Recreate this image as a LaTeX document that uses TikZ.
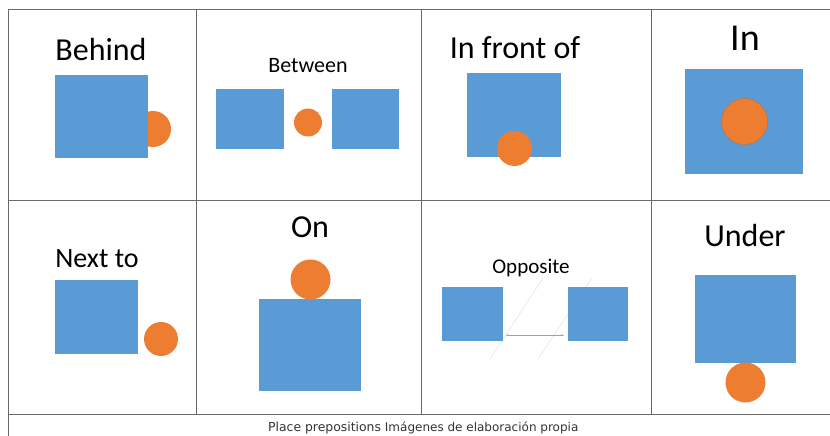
\documentclass[tikz,border=0pt]{standalone}
\usepackage{fontspec}
\setmainfont{Carlito}
\newfontfamily\notefont{DejaVu Sans}
\usepackage{xcolor}
\usetikzlibrary{arrows.meta}

\definecolor{boxblue}{HTML}{5B9BD5}
\definecolor{ballorange}{HTML}{ED7D31}
\definecolor{gridgray}{HTML}{6A6A6A}

\begin{document}
\begin{tikzpicture}[
    x=1pt, y=-1pt,
    grid/.style={draw=gridgray, line width=1pt},
    box/.style={rectangle, fill=boxblue, inner sep=0pt},
    ball/.style={circle, fill=ballorange, inner sep=0pt},
    word/.style={anchor=base, inner sep=0pt, text=black},
    pointer/.style={draw=gray!75, line width=0.5pt, {Stealth[length=2pt,width=2pt]}-{Stealth[length=2pt,width=2pt]}},
    guide/.style={draw=gray!25, line width=0.5pt}
]
\useasboundingbox (0,0) rectangle (830,436);

% table lines
\draw [grid] (8,436) -- (8,10) -- (830,10);
\draw [grid] (8,200) -- (830,200);
\draw [grid] (8,414) -- (830,414);
\draw [grid] (196,10) -- (196,414);
\draw [grid] (421,10) -- (421,414);
\draw [grid] (651,10) -- (651,414);

% behind
\node (behindball) [ball, minimum size=36pt] at (153,129) {};
\node (behindbox) [box, minimum width=93pt, minimum height=83pt] at (101.5,116.5) {};
\node (behind) [word, font=\fontsize{32}{38}\selectfont] at (101,60) {Behind};

% between
\node (betweenleft) [box, minimum width=68pt, minimum height=60pt] at (250,119) {};
\node (betweenright) [box, minimum width=67pt, minimum height=60pt] at (365.5,119) {};
\node (betweenball) [ball, minimum size=28pt] at (308,122.5) {};
\node (between) [word, font=\fontsize{22}{26}\selectfont] at (308,73) {Between};

% in front of
\node (frontbox) [box, minimum width=94pt, minimum height=84pt] at (514,115) {};
\node (frontball) [ball, minimum size=35pt] at (514.5,148.5) {};
\node (front) [word, font=\fontsize{32}{38}\selectfont] at (515,59) {In front of};

% in
\node (inbox) [box, minimum width=118pt, minimum height=105pt] at (744,121.5) {};
\node (inball) [ball, draw=ballorange!85!black, minimum size=46pt] at (744.5,121.5) {};
\node (in) [word, font=\fontsize{38}{44}\selectfont] at (745,51) {In};

% next to
\node (nextbox) [box, minimum width=83pt, minimum height=74pt] at (96.5,317) {};
\node (nextball) [ball, minimum size=34pt] at (161,339) {};
\node (next) [word, font=\fontsize{28}{34}\selectfont] at (97,267) {Next to};

% on
\node (onbox) [box, minimum width=102pt, minimum height=92pt] at (310,345) {};
\node (onball) [ball, minimum size=40pt] at (310.5,279.5) {};
\node (on) [word, font=\fontsize{32}{38}\selectfont] at (310,237) {On};

% opposite
\draw [guide] (543,278) -- (490,359);
\draw [guide] (592,278) -- (538,359);
\node (oppleft) [box, minimum width=61pt, minimum height=54pt] at (472.5,314) {};
\node (oppright) [box, minimum width=60pt, minimum height=54pt] at (598,314) {};
\draw [pointer] ([shift={(3,-6)}]oppleft.south east) -- ([shift={(-4,-6)}]oppright.south west);
\node (opposite) [word, font=\fontsize{21}{25}\selectfont] at (531,273) {Opposite};

% under
\node (underbox) [box, minimum width=101pt, minimum height=88pt] at (745.5,319) {};
\node (underball) [ball, minimum size=40pt] at (745.5,382.5) {};
\node (under) [word, font=\fontsize{32}{38}\selectfont] at (745,246) {Under};

% caption
\node (note) [word, anchor=base west, text=black!80] at (268,431)
  {\notefont\fontsize{12.4}{14}\selectfont Place prepositions {\fontsize{12}{14}\selectfont Imágenes de elaboración propia}};
\end{tikzpicture}
\end{document}
